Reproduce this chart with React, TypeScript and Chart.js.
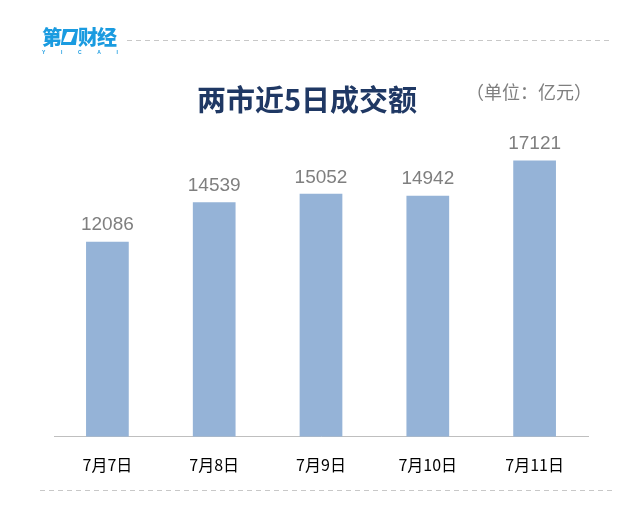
import React, { useEffect, useRef } from "react";
import { Chart, registerables } from "chart.js";

Chart.register(...registerables);

const categories = ["7月7日", "7月8日", "7月9日", "7月10日", "7月11日"];
const turnover = [12086, 14539, 15052, 14942, 17121];
const titleText = "两市近5日成交额";
const unitText = "（单位：亿元）";

const valueLabels = {
  id: "valueLabels",
  afterDatasetsDraw(chart: any) {
    const ctx = chart.ctx;
    const meta = chart.getDatasetMeta(0);
    ctx.save();
    ctx.font = "19px 'Liberation Sans', Arial, sans-serif";
    ctx.fillStyle = "#7f7f7f";
    ctx.textAlign = "center";
    ctx.textBaseline = "bottom";
    meta.data.forEach((el: any, i: number) => {
      ctx.fillText(String(chart.data.datasets[0].data[i]), el.x, el.y - 7);
    });
    ctx.restore();
  },
};

const dashBg = (color: string) =>
  `repeating-linear-gradient(to right, ${color} 0 5px, transparent 5px 9px)`;

export default function App() {
  const ref = useRef<HTMLCanvasElement>(null);
  useEffect(() => {
    if (!ref.current) return;
    const chart = new Chart(ref.current, {
      type: "bar",
      data: {
        labels: categories,
        datasets: [
          {
            data: turnover,
            backgroundColor: "#95b3d7",
            categoryPercentage: 1,
            barPercentage: 0.4,
          },
        ],
      },
      options: {
        responsive: false,
        animation: false,
        layout: { padding: { left: 54, right: 54, top: 114, bottom: 23 } },
        plugins: { legend: { display: false }, tooltip: { enabled: false } },
        scales: {
          x: {
            grid: { display: false, drawTicks: false },
            border: { display: true, color: "#bfbfbf", width: 1 },
            ticks: {
              padding: 19,
              color: "#000",
              font: { family: "'Noto Sans CJK SC', sans-serif", size: 16 },
            },
          },
          y: { display: false, min: 0, max: 20000 },
        },
      },
      plugins: [valueLabels],
    });
    return () => chart.destroy();
  }, []);

  return (
    <div style={{ position: "fixed", left: 0, top: 0, width: 642, height: 517, background: "#fff", overflow: "hidden" }}>
      <canvas ref={ref} width={642} height={517} style={{ position: "absolute", left: 0, top: 0, width: 642, height: 517 }} />
      {/* logo */}
      <div style={{ position: "absolute", left: 42, top: 27, width: 80, fontFamily: "'Noto Sans CJK SC', sans-serif" }}>
        <div style={{ display: "flex", alignItems: "center", color: "#1a9be0", fontWeight: 900, fontSize: 20, lineHeight: "20px", letterSpacing: -1 }}>
          <span>第</span>
          <span style={{ display: "inline-block", width: 15, height: 16, background: "#1a9be0", margin: "0 1px", position: "relative", transform: "skewX(-8deg)" }}>
            <span style={{ position: "absolute", left: 3, top: 3, width: 8, height: 10, background: "#fff", transform: "skewX(-15deg)" }} />
          </span>
          <span>财经</span>
        </div>
        <div style={{ display: "flex", justifyContent: "space-between", width: 76, marginTop: 2, fontSize: 5, lineHeight: "6px", color: "#1a9be0", fontFamily: "'Liberation Sans', sans-serif", fontWeight: 700 }}>
          <span>Y</span><span>I</span><span>C</span><span>A</span><span>I</span>
        </div>
      </div>
      <div style={{ position: "absolute", left: 127, top: 40, width: 485, height: 1, backgroundImage: dashBg("#c8c8c8") }} />
      <div style={{ position: "absolute", left: 40, top: 490, width: 572, height: 1, backgroundImage: dashBg("#c8c8c8") }} />
      {/* title */}
      <div style={{ position: "absolute", left: 0, width: 614, top: 79, textAlign: "center", fontFamily: "'Noto Sans CJK SC', sans-serif", fontWeight: 700, fontSize: 29, lineHeight: "38px", color: "#1f3864" }}>
        {titleText}
      </div>
      <div style={{ position: "absolute", left: 466, top: 79, fontFamily: "'Noto Sans CJK SC', sans-serif", fontSize: 18, lineHeight: "24px", color: "#7f7f7f", whiteSpace: "nowrap" }}>
        {unitText}
      </div>
    </div>
  );
}
